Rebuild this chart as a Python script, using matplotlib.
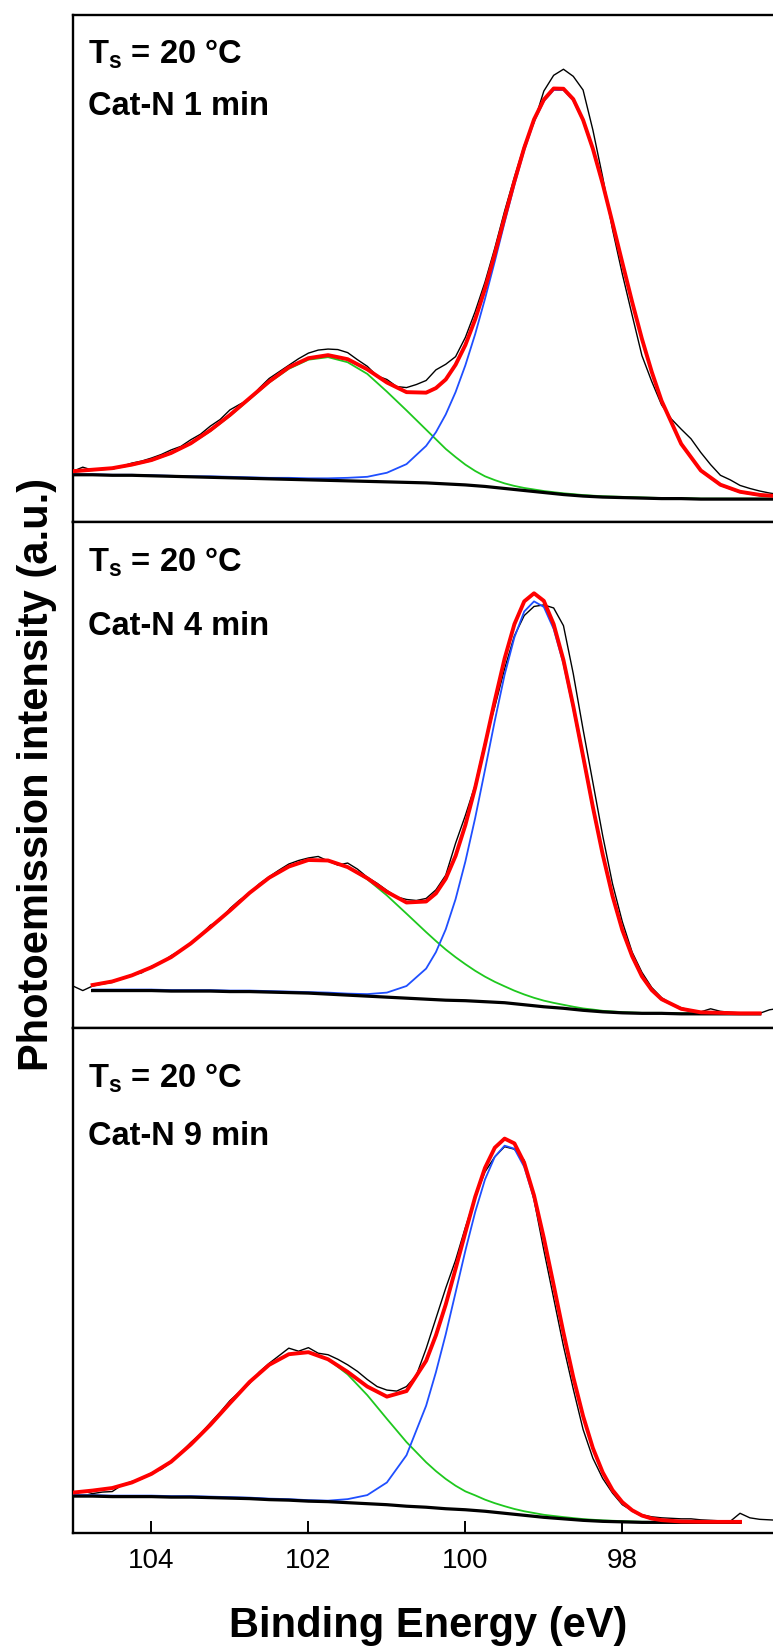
import matplotlib
matplotlib.use('Agg')
import matplotlib.pyplot as plt

plt.rcParams['font.family'] = ['Liberation Sans', 'DejaVu Sans']
plt.rcParams['mathtext.fontset'] = 'custom'
plt.rcParams['mathtext.rm'] = 'Liberation Sans:bold'
plt.rcParams['mathtext.bf'] = 'Liberation Sans:bold'

# binding energy grids (eV): raw spectra and fitted curves
E_RAW = [105.0, 104.875, 104.75, 104.625, 104.5, 104.375, 104.25, 104.125, 104.0, 103.875,
         103.75, 103.625, 103.5, 103.375, 103.25, 103.125, 103.0, 102.875, 102.75, 102.625,
         102.5, 102.375, 102.25, 102.125, 102.0, 101.875, 101.75, 101.625, 101.5, 101.375,
         101.25, 101.125, 101.0, 100.875, 100.75, 100.625, 100.5, 100.375, 100.25, 100.125,
         100.0, 99.875, 99.75, 99.625, 99.5, 99.375, 99.25, 99.125, 99.0, 98.875,
         98.75, 98.625, 98.5, 98.375, 98.25, 98.125, 98.0, 97.875, 97.75, 97.625,
         97.5, 97.375, 97.25, 97.125, 97.0, 96.875, 96.75, 96.625, 96.5, 96.375,
         96.25, 96.125, 96.0]
E_FIT = [105.0, 104.75, 104.5, 104.25, 104.0, 103.75, 103.5, 103.25, 103.0, 102.75,
         102.5, 102.25, 102.0, 101.75, 101.5, 101.25, 101.0, 100.75,
         100.5, 100.375, 100.25, 100.125, 100.0, 99.875, 99.75, 99.625, 99.5, 99.375,
         99.25, 99.125, 99.0, 98.875, 98.75, 98.625, 98.5, 98.375, 98.25, 98.125,
         98.0, 97.875, 97.75, 97.625, 97.5,
         97.25, 97.0, 96.75, 96.5, 96.25, 96.0]

# ---- Cat-N 1 min ----
raw_1 = [10.0, 10.8, 10.2, 10.5, 10.4, 11.0, 11.6, 12.0, 12.6, 13.3,
         14.2, 14.9, 16.2, 17.3, 18.9, 20.2, 22.1, 23.2, 24.2, 26.4,
         28.3, 29.6, 30.9, 32.2, 33.3, 33.9, 34.1, 34.0, 33.4, 32.0,
         30.7, 28.8, 28.1, 26.7, 26.5, 27.1, 27.9, 30.0, 31.1, 32.6,
         36.4, 41.5, 47.3, 54.0, 61.3, 68.0, 74.3, 78.8, 85.0, 88.1,
         89.3, 87.9, 85.2, 77.3, 68.0, 57.7, 48.9, 40.8, 32.8, 27.7,
         23.1, 20.3, 18.3, 16.4, 13.7, 11.3, 9.2, 8.3, 7.2, 6.6,
         6.1, 5.7, 5.4]
bg_1 = [9.3, 9.3, 9.2, 9.2, 9.1, 9.0, 8.9, 8.8, 8.7, 8.6,
        8.5, 8.4, 8.3, 8.2, 8.1, 8.0, 7.9, 7.8,
        7.7, 7.6, 7.5, 7.4, 7.3, 7.15, 7.0, 6.8, 6.6, 6.4,
        6.2, 6.0, 5.8, 5.6, 5.4, 5.25, 5.1, 5.0, 4.9, 4.85,
        4.8, 4.75, 4.7, 4.65, 4.6,
        4.6, 4.5, 4.5, 4.5, 4.5, 4.5]
green_1 = [9.9, 10.2, 10.5, 11.2, 12.1, 13.5, 15.4, 17.9, 20.9, 24.2,
           27.5, 30.2, 32.0, 32.5, 31.5, 29.2, 25.7, 22.0,
           18.2, 16.3, 14.4, 12.8, 11.3, 10.05, 9.0, 8.25, 7.6, 7.1,
           6.7, 6.4, 6.1, 5.87, 5.65, 5.48, 5.3, 5.18, 5.07, 5.01,
           4.95, 4.89, 4.83, 4.77, 4.72,
           4.71, 4.6, 4.6, 4.6, 4.6, 4.6]
blue_1 = [9.4, 9.4, 9.3, 9.3, 9.2, 9.1, 9.0, 9.0, 8.9, 8.8,
          8.7, 8.7, 8.6, 8.6, 8.7, 8.9, 9.7, 11.4,
          15.0, 17.7, 21.2, 25.6, 30.9, 37.05, 44.0, 51.4, 59.1, 66.5,
          73.3, 79.0, 83.0, 85.2, 85.2, 83.15, 79.1, 73.4, 66.5, 58.85,
          51.0, 43.25, 36.0, 29.45, 23.8,
          15.3, 10.05, 7.24, 5.85, 5.23, 4.96]
fit_1 = [10.0, 10.3, 10.6, 11.3, 12.2, 13.6, 15.5, 18.1, 21.1, 24.4,
         27.7, 30.5, 32.3, 32.9, 32.1, 30.1, 27.5, 25.6,
         25.5, 26.4, 28.1, 31.0, 34.9, 39.95, 46.0, 52.85, 60.1, 67.2,
         73.8, 79.4, 83.3, 85.5, 85.45, 83.4, 79.3, 73.6, 66.7, 59.0,
         51.15, 43.4, 36.1, 29.6, 23.9,
         15.4, 10.15, 7.34, 5.95, 5.33, 5.06]

# ---- Cat-N 4 min ----
raw_2 = [8.3, 7.4, 8.3, 8.7, 9.0, 9.9, 10.5, 10.9, 12.2, 12.9,
         14.3, 15.4, 16.6, 18.4, 20.3, 21.3, 23.6, 25.3, 26.6, 28.5,
         29.9, 31.2, 32.4, 33.1, 33.6, 33.9, 33.0, 32.2, 32.6, 31.4,
         29.8, 28.6, 27.2, 25.9, 25.4, 25.2, 25.6, 27.3, 30.2, 36.5,
         42.0, 48.0, 56.5, 63.5, 71.0, 77.5, 81.5, 83.3, 83.6, 83.0,
         79.5, 70.0, 59.0, 48.5, 38.0, 28.5, 21.0, 15.0, 11.0, 8.0,
         6.0, 4.8, 4.0, 3.5, 3.2, 3.8, 3.3, 3.1, 3.0, 2.9,
         2.9, 3.6, 3.9]
bg_2 = [7.4, 7.4, 7.4, 7.4, 7.3, 7.3, 7.3, 7.2, 7.2, 7.1,
        7.0, 6.9, 6.7, 6.5, 6.3, 6.1, 5.9,
        5.7, 5.6, 5.5, 5.45, 5.4, 5.3, 5.2, 5.1, 5.0, 4.8,
        4.6, 4.4, 4.2, 4.05, 3.9, 3.7, 3.5, 3.35, 3.2, 3.1,
        3.0, 2.95, 2.9, 2.9, 2.9,
        2.8, 2.8, 2.8, 2.8, 2.8]
green_2 = [8.5, 9.2, 10.4, 12.0, 14.0, 16.7, 19.9, 23.2, 26.7, 29.7,
           31.9, 33.2, 33.1, 31.8, 29.4, 26.2, 22.6,
           18.95, 17.19, 15.51, 14.0, 12.61, 11.31, 10.15, 9.13, 8.24, 7.38,
           6.63, 5.97, 5.41, 4.97, 4.59, 4.21, 3.87, 3.65, 3.4, 3.28,
           3.15, 3.07, 3.0, 3.0, 3.0,
           2.9, 2.9, 2.9, 2.9, 2.9]
blue_2 = [7.6, 7.6, 7.6, 7.6, 7.5, 7.5, 7.5, 7.4, 7.4, 7.3,
          7.2, 7.1, 7.0, 6.8, 6.7, 7.0, 8.3,
          11.74, 15.0, 19.5, 25.45, 32.9, 41.5, 51.0, 60.7, 69.8, 77.2,
          82.3, 84.3, 83.2, 78.85, 72.0, 63.1, 53.3, 43.35, 34.1, 25.9,
          19.2, 14.05, 10.1, 7.4, 5.6,
          3.7, 3.0, 2.9, 2.8, 2.8]
fit_2 = [8.5, 9.2, 10.4, 12.0, 14.0, 16.7, 19.9, 23.2, 26.7, 29.7,
         31.9, 33.2, 33.1, 31.8, 29.6, 26.9, 24.8,
         25.0, 26.6, 29.5, 34.0, 40.1, 47.5, 55.95, 64.7, 73.0, 79.8,
         84.3, 85.9, 84.4, 79.8, 72.7, 63.6, 53.7, 43.65, 34.3, 26.1,
         19.35, 14.2, 10.2, 7.5, 5.7,
         3.8, 3.1, 3.0, 2.9, 2.9]

# ---- Cat-N 9 min ----
raw_3 = [7.6, 8.3, 7.8, 8.1, 8.2, 9.5, 10.2, 10.7, 11.9, 12.6,
         14.0, 15.9, 17.9, 19.6, 21.8, 23.9, 26.2, 28.0, 29.6, 31.9,
         33.6, 35.1, 36.6, 36.0, 36.7, 35.6, 35.3, 34.4, 33.3, 32.0,
         30.4, 29.0, 28.3, 28.1, 29.0, 31.2, 36.5, 42.5, 48.5, 54.0,
         60.5, 66.5, 71.5, 74.5, 76.5, 76.0, 73.8, 66.0, 56.0, 46.5,
         37.0, 28.5, 20.5, 14.8, 10.8, 7.9, 5.6, 4.4, 3.6, 3.2,
         3.0, 2.9, 2.8, 2.8, 2.6, 2.5, 2.4, 2.3, 3.9, 3.0,
         2.7, 2.6, 2.5]
bg_3 = [7.3, 7.3, 7.2, 7.2, 7.2, 7.1, 7.1, 7.0, 6.9, 6.8,
        6.6, 6.5, 6.3, 6.2, 6.0, 5.8, 5.6, 5.3,
        5.1, 4.95, 4.8, 4.7, 4.6, 4.45, 4.3, 4.1, 3.9, 3.7,
        3.5, 3.3, 3.1, 2.95, 2.8, 2.65, 2.5, 2.4, 2.3, 2.25,
        2.2, 2.15, 2.1, 2.1, 2.1,
        2.1, 2.1, 2.1, 2.1]
green_3 = [8.0, 8.4, 8.9, 10.0, 11.7, 14.1, 17.5, 21.4, 25.7, 29.9,
           33.3, 35.4, 35.8, 34.4, 31.4, 27.3, 22.6, 18.0,
           14.0, 12.25, 10.7, 9.36, 8.24, 7.45, 6.6, 5.9, 5.3, 4.75,
           4.3, 3.95, 3.6, 3.37, 3.15, 2.95, 2.75, 2.62, 2.5, 2.42,
           2.35, 2.28, 2.22, 2.2, 2.2,
           2.2, 2.2, 2.2, 2.2]
blue_3 = [7.5, 7.5, 7.4, 7.4, 7.4, 7.3, 7.3, 7.2, 7.1, 7.0,
          6.8, 6.7, 6.5, 6.4, 6.7, 7.5, 10.0, 15.4,
          25.2, 31.85, 39.35, 47.6, 55.9, 63.55, 70.0, 74.5, 76.7, 76.1,
          72.5, 66.2, 57.9, 48.65, 39.3, 30.55, 22.9, 16.6, 11.8, 8.35,
          5.93, 4.34, 3.33, 2.76, 2.44,
          2.17, 2.11, 2.1, 2.1]
fit_3 = [8.0, 8.4, 8.9, 10.0, 11.7, 14.1, 17.5, 21.4, 25.7, 29.9,
         33.3, 35.4, 35.8, 34.4, 31.9, 29.0, 27.0, 28.1,
         34.1, 39.15, 45.25, 52.3, 59.5, 66.55, 72.3, 76.3, 78.1, 77.15,
         73.3, 66.85, 58.4, 49.1, 39.65, 30.85, 23.15, 16.8, 12.0, 8.5,
         6.1, 4.5, 3.45, 2.86, 2.54,
         2.27, 2.21, 2.2, 2.2]

times = ['1', '4', '9']
xticks = [104, 102, 100, 98]

# fit curves of panel 2 start at 104.75 eV, panel 3 stops at 96.5 eV
panels = [
    (E_FIT, raw_1, bg_1, green_1, blue_1, fit_1),
    (E_FIT[1:48], raw_2, bg_2, green_2, blue_2, fit_2),
    (E_FIT[0:47], raw_3, bg_3, green_3, blue_3, fit_3),
]

rects = [[0.0944, 0.6833, 0.9056, 0.3076],
         [0.0944, 0.3762, 0.9056, 0.3071],
         [0.0944, 0.0698, 0.9056, 0.3064]]
label_y = [(0.905, 0.803), (0.903, 0.777), (0.883, 0.768)]

fig = plt.figure(figsize=(7.73, 16.48), dpi=100)

for i in range(3):
    e_fit, raw, bg, green, blue, fit = panels[i]
    ax = fig.add_axes(rects[i])
    ax.plot(E_RAW, raw, color='black', lw=1.0, zorder=1)
    ax.plot(e_fit, green, color='#1ec81e', lw=1.3, zorder=2)
    ax.plot(e_fit, blue, color='#1f4fff', lw=1.3, zorder=3)
    ax.plot(e_fit, bg, color='black', lw=2.3, zorder=4)
    ax.plot(e_fit, fit, color='red', lw=2.8, zorder=5)

    ax.set_xlim(105, 96.08)
    ax.set_ylim(0, 100)
    ax.spines['right'].set_visible(False)
    for s in ['left', 'top', 'bottom']:
        ax.spines[s].set_linewidth(1.7)
    ax.set_yticks([])
    if i == 2:
        ax.set_xticks(xticks)
        ax.set_xticklabels([str(t) for t in xticks])
        ax.tick_params(axis='x', direction='in', length=8.6, width=1.4,
                       labelsize=20, pad=11)
    else:
        ax.set_xticks([])

    y1, y2 = label_y[i]
    ax.text(0.0214, y1, 'T$_\\mathbf{s}$ = 20 \u00b0C', transform=ax.transAxes,
            fontsize=23.5, fontweight='bold', va='baseline')
    ax.text(0.0214, y2, 'Cat-N ' + times[i] + ' min', transform=ax.transAxes,
            fontsize=23.5, fontweight='bold', va='baseline')

fig.text(0.554, 0.0067, 'Binding Energy (eV)', ha='center', va='baseline',
         fontsize=30, fontweight='bold')
fig.text(0.048, 0.53, 'Photoemission intensity (a.u.)', ha='center', va='center',
         rotation=90, fontsize=30, fontweight='bold')

fig.savefig('out.png', dpi=100)
